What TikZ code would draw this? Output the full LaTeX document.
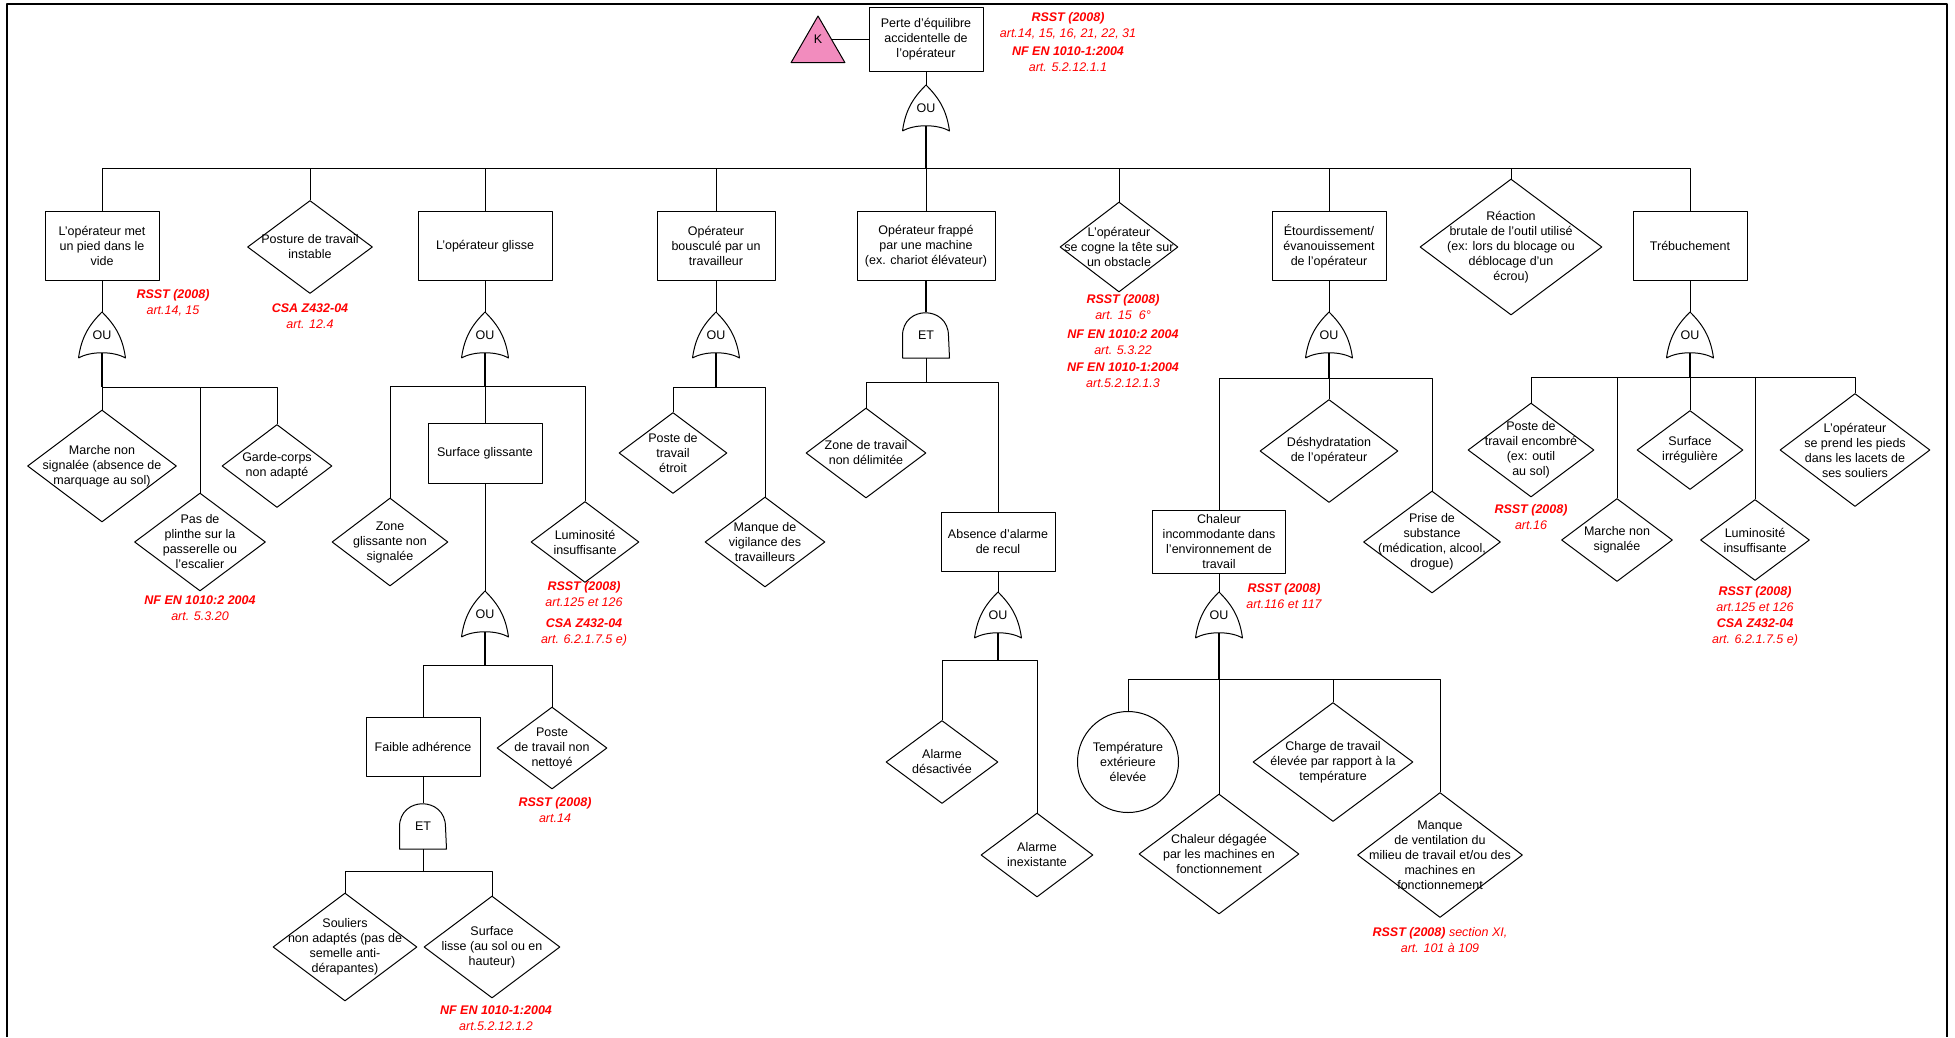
\documentclass[tikz,border=0pt]{standalone}
\usepackage{fontspec}
\setmainfont{Liberation Sans}
\usetikzlibrary{shapes.geometric}
\definecolor{kpink}{RGB}{242,140,190}

\begin{document}
\begin{tikzpicture}[x=1pt,y=-1pt,line width=1pt,line join=round,
    font=\fontsize{12.5}{15}\selectfont,
    box/.style={draw,align=center,inner sep=1pt,minimum width=#1,minimum height=69pt},
    box/.default=114pt,
    event/.style 2 args={diamond,draw,inner sep=0pt,minimum width=#1pt,minimum height=#2pt},
    gate/.style={inner sep=0pt,minimum width=46pt,minimum height=45pt},
    stub/.style={line width=2pt},
    ref/.style={text=red,align=center,font=\fontsize{12.5}{16}\selectfont\itshape},
    every label/.append style={align=center}]

  \useasboundingbox (0,0) rectangle (1955,1037);
  % cadre
  \draw[line width=2.5pt] (7,1037) -- (7,4) -- (1947,4) -- (1947,1037);

  % événement de tête
  \node[box,minimum height=64pt] (top) at (926,39) {Perte d'équilibre\\accidentelle de\\l'opérateur};
  \node[regular polygon,regular polygon sides=3,draw,fill=kpink,inner sep=0pt,minimum size=62pt,
        label={[yshift=8pt]center:K}] (k) at (818,47) {};
  \draw (k.side 3) -- (top.west);
  \node[ref] (r0) at (1068,42) {\textbf{RSST (2008)}\\art.14, 15, 16, 21, 22, 31\\[2pt]\textbf{NF EN 1010-1:2004}\\art. 5.2.12.1.1};
  \node[gate] (g0) at (926,108) {OU};
  \coordinate (j0) at (926,168);

  % premier niveau
  \node[box] (b1) at (102,246) {L'opérateur met\\un pied dans le\\vide};
  \node[event={125}{93},label=center:{Posture de travail\\instable}] (d2) at (310,247) {};
  \node[box=134pt] (b3) at (485,246) {L'opérateur glisse};
  \node[box=118pt] (b4) at (716,246) {Opérateur\\bousculé par un\\travailleur};
  \node[box=138pt] (b5) at (926,246) {Opérateur frappé\\par une machine\\(ex. chariot élévateur)};
  \node[event={118}{90},label=center:{L'opérateur\\se cogne la tête sur\\un obstacle}] (d6) at (1119,247) {};
  \node[box] (b7) at (1329,246) {Étourdissement/\\évanouissement\\de l'opérateur};
  \node[event={182}{136},label=center:{Réaction\\brutale de l'outil utilisé\\(ex: lors du blocage ou\\déblocage d'un\\écrou)}] (d8) at (1511,247) {};
  \node[box] (b9) at (1690,246) {Trébuchement};

  \draw (top) -- (g0);
  \draw[stub] ([yshift=5pt]g0.south) -- (j0);
  \foreach \c in {b1,d2,b3,b4,b5,d6,b7,d8,b9}
    \draw (j0) -| (\c.north);

  % pied dans le vide
  \node[ref] (r1) at (173,303) {\textbf{RSST (2008)}\\art.14, 15};
  \node[ref] (r2) at (310,316) {\textbf{CSA Z432-04}\\art. 12.4};
  \node[gate] (g1) at (102,335) {OU};
  \coordinate (j1) at (102,387);
  \node[event={149}{112},label=center:{Marche non\\signalée (absence de\\marquage au sol)}] (m1) at (102,466) {};
  \node[event={131}{98},label=center:{Pas de\\plinthe sur la\\passerelle ou\\l'escalier}] (m2) at (200,542) {};
  \node[event={110}{83},label=center:{Garde-corps\\non adapté}] (m3) at (277,466) {};
  \node[ref] (r3) at (200,608) {\textbf{NF EN 1010:2 2004}\\art. 5.3.20};
  \draw (b1) -- (g1);
  \draw[stub] ([yshift=5pt]g1.south) -- (j1);
  \foreach \c in {m1,m2,m3}
    \draw (j1) -| (\c.north);

  % glissade
  \node[gate] (g3) at (485,335) {OU};
  \coordinate (j3) at (485,386);
  \node[event={116}{88},label=center:{Zone\\glissante non\\signalée}] (z1) at (390,542) {};
  \node[box,minimum height=60pt] (sg) at (485,453) {Surface glissante};
  \node[event={108}{81},label=center:{Luminosité\\insuffisante}] (l1) at (585,542) {};
  \node[ref] (r4) at (584,614) {\textbf{RSST (2008)}\\art.125 et 126\\[5pt]\textbf{CSA Z432-04}\\art. 6.2.1.7.5 e)};
  \node[gate] (g3b) at (485,614) {OU};
  \coordinate (j3b) at (485,665);
  \node[box,minimum height=59pt] (fa) at (423,747) {Faible adhérence};
  \node[event={110}{82},label=center:{Poste\\de travail non\\nettoyé}] (pn) at (552,748) {};
  \node[ref] (r5) at (555,810) {\textbf{RSST (2008)}\\art.14};
  \node[gate] (g3c) at (423,826) {ET};
  \coordinate (j3c) at (423,871);
  \node[event={144}{108},label=center:{Souliers\\non adaptés (pas de\\semelle anti-\\dérapantes)}] (so) at (345,947) {};
  \node[event={136}{102},label=center:{Surface\\lisse (au sol ou en\\hauteur)}] (sl) at (492,947) {};
  \node[ref] (r6) at (496,1018) {\textbf{NF EN 1010-1:2004}\\art.5.2.12.1.2};
  \draw (b3) -- (g3);
  \draw[stub] ([yshift=5pt]g3.south) -- (j3);
  \foreach \c in {z1,sg,l1}
    \draw (j3) -| (\c.north);
  \draw (sg) -- (g3b);
  \draw[stub] ([yshift=5pt]g3b.south) -- (j3b);
  \foreach \c in {fa,pn}
    \draw (j3b) -| (\c.north);
  \draw (fa) -- (g3c);
  \draw (g3c.south) -- (j3c);
  \foreach \c in {so,sl}
    \draw (j3c) -| (\c.north);

  % bousculé
  \node[gate] (g4) at (716,335) {OU};
  \coordinate (j4) at (716,387);
  \node[event={108}{81},label=center:{Poste de\\travail\\étroit}] (pe) at (673,453) {};
  \node[event={120}{90},label=center:{Manque de\\vigilance des\\travailleurs}] (mv) at (765,542) {};
  \draw (b4) -- (g4);
  \draw[stub] ([yshift=5pt]g4.south) -- (j4);
  \foreach \c in {pe,mv}
    \draw (j4) -| (\c.north);

  % frappé par une machine
  \node[gate] (g5) at (926,335) {ET};
  \coordinate (j5) at (926,382);
  \node[event={120}{90},label=center:{Zone de travail\\non délimitée}] (zt) at (866,453) {};
  \node[box,minimum height=59pt] (aa) at (998,542) {Absence d'alarme\\de recul};
  \node[gate] (g5b) at (998,615) {OU};
  \coordinate (j5b) at (998,660);
  \node[event={112}{83},label=center:{Alarme\\désactivée}] (ad) at (942,762) {};
  \node[event={112}{84},label=center:{Alarme\\inexistante}] (ai) at (1037,855) {};
  \draw[stub] (b5) -- (g5);
  \draw (g5.south) -- (j5);
  \foreach \c in {zt,aa}
    \draw (j5) -| (\c.north);
  \draw (aa) -- (g5b);
  \draw[stub] ([yshift=5pt]g5b.south) -- (j5b);
  \foreach \c in {ad,ai}
    \draw (j5b) -| (\c.north);

  % tête contre un obstacle
  \node[ref] (r7) at (1123,341) {\textbf{RSST (2008)}\\art. 15~~6°\\[3pt]\textbf{NF EN 1010:2 2004}\\art. 5.3.22\\[1pt]\textbf{NF EN 1010-1:2004}\\art.5.2.12.1.3};

  % étourdissement
  \node[gate] (g7) at (1329,335) {OU};
  \coordinate (j7) at (1329,378);
  \node[box=133pt,minimum height=63pt] (ch) at (1219,542) {Chaleur\\incommodante dans\\l'environnement de\\travail};
  \node[event={138}{103},label=center:{Déshydratation\\de l'opérateur}] (dh) at (1329,451) {};
  \node[event={137}{102},label=center:{Prise de\\substance\\(médication, alcool,\\drogue)}] (ps) at (1432,542) {};
  \node[ref] (r8) at (1284,596) {\textbf{RSST (2008)}\\art.116 et 117};
  \node[gate] (g7b) at (1219,615) {OU};
  \coordinate (j7b) at (1219,679);
  \node[circle,draw,inner sep=0pt,minimum size=101pt,align=center] (te) at (1128,762) {Température\\extérieure\\élevée};
  \node[event={160}{120},label=center:{Chaleur dégagée\\par les machines en\\fonctionnement}] (cd) at (1219,854) {};
  \node[event={160}{119},label=center:{Charge de travail\\élevée par rapport à la\\température}] (ct) at (1333,762) {};
  \node[event={165}{125},label=center:{Manque\\de ventilation du\\milieu de travail et/ou des\\machines en\\fonctionnement}] (vt) at (1440,855) {};
  \node[ref] (r9) at (1440,940) {\textbf{RSST (2008)} section XI,\\art. 101 à 109};
  \draw (b7) -- (g7);
  \draw[stub] ([yshift=5pt]g7.south) -- (j7);
  \foreach \c in {ch,dh,ps}
    \draw (j7) -| (\c.north);
  \draw (ch) -- (g7b);
  \draw[stub] ([yshift=5pt]g7b.south) -- (j7b);
  \foreach \c in {te,cd,ct,vt}
    \draw (j7b) -| (\c.north);

  % trébuchement
  \node[gate] (g9) at (1690,335) {OU};
  \coordinate (j9) at (1690,377);
  \node[event={126}{94},label=center:{Poste de\\travail encombré\\(ex: outil\\au sol)}] (t1) at (1531,450) {};
  \node[ref] (r10) at (1531,517) {\textbf{RSST (2008)}\\art.16};
  \node[event={111}{83},label=center:{Marche non\\signalée}] (t2) at (1617,540) {};
  \node[event={106}{79},label=center:{Surface\\irrégulière}] (t3) at (1690,450) {};
  \node[event={109}{81},label=center:{Luminosité\\insuffisante}] (t4) at (1755,540) {};
  \node[ref] (r11) at (1755,616) {\textbf{RSST (2008)}\\art.125 et 126\\\textbf{CSA Z432-04}\\art. 6.2.1.7.5 e)};
  \node[event={150}{113},label=center:{L'opérateur\\se prend les pieds\\dans les lacets de\\ses souliers}] (t5) at (1855,450) {};
  \draw (b9) -- (g9);
  \draw[stub] ([yshift=5pt]g9.south) -- (j9);
  \foreach \c in {t1,t2,t3,t4,t5}
    \draw (j9) -| (\c.north);

  % portes OU / ET
  \foreach \g in {g0,g1,g3,g4,g7,g9,g3b,g5b,g7b}
    \draw (\g.south west) .. controls +(3,-22) and +(-12,12) .. (\g.north)
      .. controls +(12,12) and +(-3,-22) .. (\g.south east)
      .. controls +(-12,-7) and +(12,-7) .. (\g.south west);
  \foreach \g in {g5,g3c}
    \draw (\g.south west) -- ++(0,-22) .. controls +(0,-31) and +(0,-31) .. ++(46,0) -- (\g.south east) -- cycle;

\end{tikzpicture}
\end{document}
